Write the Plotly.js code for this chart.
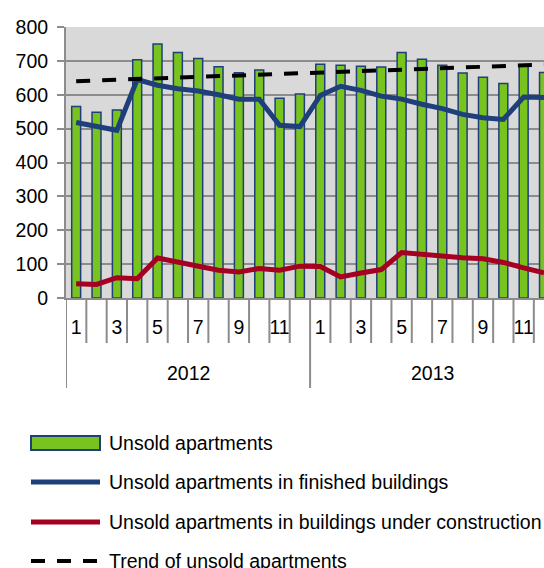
<!DOCTYPE html>
<html>
<head>
<meta charset="utf-8">
<script src="https://cdn.plot.ly/plotly-3.0.1.min.js"></script>
<style>html,body{margin:0;padding:0;overflow:hidden;background:#fff}</style>
</head>
<body>
<div id="chart" style="width:544px;height:568px"></div>
<script>
// ---- data ----
const years = ['2012','2012','2012','2012','2012','2012','2012','2012','2012','2012','2012','2012',
               '2013','2013','2013','2013','2013','2013','2013','2013','2013','2013','2013','2013'];
const months = ['1','2','3','4','5','6','7','8','9','10','11','12',
                '1','2','3','4','5','6','7','8','9','10','11','12'];
const monthTickLabels = ['1','','3','','5','','7','','9','','11','',
                         '1','','3','','5','','7','','9','','11',''];
const unsold = [565,548,555,703,750,725,707,683,665,673,590,602,
                690,687,684,682,725,705,687,664,652,633,684,666];
const finished = [518,505,495,645,628,618,611,600,587,587,510,506,
                  598,625,613,596,587,572,559,542,532,527,593,592];
const underConstruction = [42,40,60,57,118,105,95,82,77,87,82,94,
                           93,62,74,84,134,128,123,119,116,105,89,74];
const trend = [640,642,644,646,648,650,653,655,657,659,661,663,
               665,668,670,672,674,676,678,680,683,685,687,689];
const seriesNames = ['Unsold apartments',
                     'Unsold apartments in finished buildings',
                     'Unsold apartments in buildings under construction',
                     'Trend of unsold apartments'];

// ---- styles ----
const FONT = "'Liberation Sans', Arial, sans-serif";
const GREEN = '#78c31e', BAR_LINE = '#1f3f7b', BLUE = '#1f3f7a', RED = '#a50021', GRID = '#8c8c8c';

const xKeys = years.map((y, i) => y + '-' + months[i]);

const traces = [
  {type: 'bar', x: xKeys, y: unsold, name: seriesNames[0],
   marker: {color: GREEN, line: {color: BAR_LINE, width: 1.5}}},
  {type: 'scatter', mode: 'lines', x: xKeys, y: finished, name: seriesNames[1],
   line: {color: BLUE, width: 5}},
  {type: 'scatter', mode: 'lines', x: xKeys, y: underConstruction, name: seriesNames[2],
   line: {color: RED, width: 5}},
  {type: 'scatter', mode: 'lines', x: xKeys, y: trend, name: seriesNames[3],
   line: {color: '#000', width: 4, dash: '14px,12px'}}
];

const shapes = [];
const annotations = [];
// category separators below the axis
for (let b = 0; b <= xKeys.length; b++) {
  const isYear = (b === 0 || b === xKeys.length || years[b] !== years[b - 1]);
  shapes.push({type: 'line', xref: 'x', yref: 'paper', ysizemode: 'pixel', yanchor: 0,
    x0: b - 0.5, x1: b - 0.5, y0: 0, y1: isYear ? -90 : -45,
    line: {color: GRID, width: 2}});
}
// year labels centred on their groups
const uniqYears = [...new Set(years)];
uniqYears.forEach(yr => {
  const first = years.indexOf(yr), last = years.lastIndexOf(yr);
  annotations.push({xref: 'x', yref: 'paper', x: (first + last) / 2, y: 0, yshift: -75,
    yanchor: 'middle', xanchor: 'center', showarrow: false, text: yr,
    font: {family: FONT, size: 19.5, color: '#000'}});
});
// manual legend
const legendRows = [-145, -184, -224, -263];
shapes.push({type: 'rect', xref: 'paper', yref: 'paper', xsizemode: 'pixel', ysizemode: 'pixel',
  xanchor: 0, yanchor: 0, x0: -35, x1: 34, y0: legendRows[0] - 7, y1: legendRows[0] + 7,
  fillcolor: GREEN, line: {color: BAR_LINE, width: 2}});
[[BLUE, 'solid'], [RED, 'solid'], ['#000', '14px,12px']].forEach((s, k) => {
  shapes.push({type: 'line', xref: 'paper', yref: 'paper', xsizemode: 'pixel', ysizemode: 'pixel',
    xanchor: 0, yanchor: 0, x0: -35, x1: 34, y0: legendRows[k + 1], y1: legendRows[k + 1],
    line: {color: s[0], width: k === 2 ? 4 : 5, dash: s[1]}});
});
seriesNames.forEach((n, k) => {
  annotations.push({xref: 'paper', yref: 'paper', x: 0, y: 0, xshift: 41, yshift: legendRows[k],
    xanchor: 'left', yanchor: 'middle', showarrow: false, text: n,
    font: {family: FONT, size: 19.5, color: '#000'}});
});

const layout = {
  width: 544, height: 568,
  margin: {l: 66, r: 0, t: 27, b: 270, pad: 0},
  paper_bgcolor: '#fff', plot_bgcolor: '#d9d9d9',
  showlegend: false,
  bargap: 0.56,
  font: {family: FONT, size: 19.5, color: '#000'},
  xaxis: {type: 'category', range: [-0.5, 23], tickmode: 'array', tickvals: xKeys, ticktext: monthTickLabels,
    ticks: '', showgrid: false, showline: true, linecolor: GRID, linewidth: 2,
    ticklabelstandoff: 11, tickfont: {family: FONT, size: 19.5, color: '#000'}, fixedrange: true},
  yaxis: {range: [0, 800], tick0: 0, dtick: 100, showgrid: true, gridcolor: GRID, gridwidth: 2,
    zeroline: false, showline: true, linecolor: GRID, linewidth: 2,
    ticks: 'outside', ticklen: 7, tickwidth: 2, tickcolor: GRID, ticklabelstandoff: 5,
    tickfont: {family: FONT, size: 19.5, color: '#000'}, fixedrange: true},
  shapes: shapes,
  annotations: annotations
};

Plotly.newPlot('chart', traces, layout, {displayModeBar: false, staticPlot: true});
</script>
</body>
</html>
